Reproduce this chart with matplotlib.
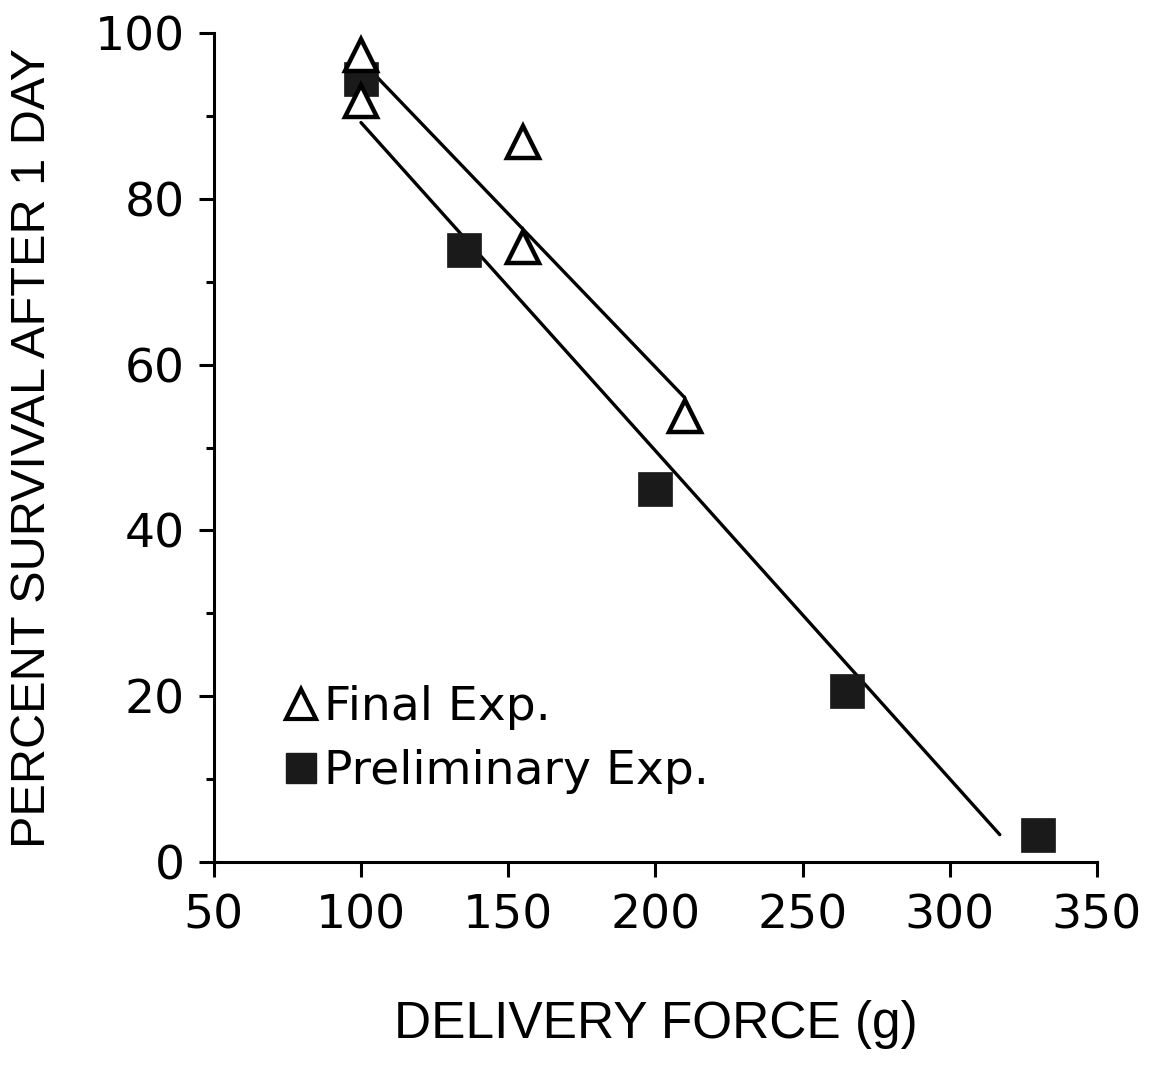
import matplotlib.pyplot as plt
from matplotlib.ticker import MultipleLocator
from matplotlib.lines import Line2D

# data
final_force = [100, 100, 155, 155, 210]
final_survival = [97.3, 91.8, 86.8, 74.2, 53.8]
prelim_force = [100, 135, 200, 265, 330]
prelim_survival = [94.5, 73.8, 45.0, 20.6, 3.2]

# fitted lines (end points as drawn)
final_fit_x = [100, 210]
final_fit_y = [96.7, 56.0]
prelim_fit_x = [100, 317]
prelim_fit_y = [89.2, 3.3]

xticks = [50, 100, 150, 200, 250, 300, 350]
yticks = [0, 20, 40, 60, 80, 100]


def main():
    plt.rcParams['font.family'] = ['DejaVu Sans']
    fig = plt.figure(figsize=(11.62, 10.65), dpi=100)
    ax = fig.add_axes([0.184, 0.1906, 0.76, 0.7784])

    ax.plot(final_fit_x, final_fit_y, color='black', lw=2.4, solid_capstyle='round')
    ax.plot(prelim_fit_x, prelim_fit_y, color='black', lw=2.4, solid_capstyle='round')

    ax.plot(prelim_force, prelim_survival, ls='none', marker='s', ms=24,
            mfc='#1a1a1a', mec='#1a1a1a', mew=0.5, zorder=3)
    ax.plot(final_force, final_survival, ls='none', marker='^', ms=23,
            mfc='white', mec='black', mew=3.2, zorder=4)

    ax.set_xlim(50, 350)
    ax.set_ylim(0, 100)
    ax.set_xticks(xticks)
    ax.set_yticks(yticks)
    ax.yaxis.set_minor_locator(MultipleLocator(10))
    for s in ['top', 'right']:
        ax.spines[s].set_visible(False)
    for s in ['left', 'bottom']:
        ax.spines[s].set_linewidth(2.2)
    ax.tick_params(which='major', length=11, width=2.2, labelsize=34, pad=10)
    ax.tick_params(axis='x', pad=12)
    ax.tick_params(which='minor', length=6, width=2.2)

    ax.set_xlabel('DELIVERY FORCE (g)', fontsize=37, family='Liberation Sans')
    ax.xaxis.set_label_coords(0.5, -0.167)
    ax.set_ylabel('PERCENT SURVIVAL AFTER 1 DAY', fontsize=35, family='Liberation Sans')
    ax.yaxis.set_label_coords(-0.18, 0.5)

    handles = [
        Line2D([], [], ls='none', marker='^', ms=21, mfc='white', mec='black', mew=3),
        Line2D([], [], ls='none', marker='s', ms=22, mfc='#1a1a1a', mec='#1a1a1a'),
    ]
    ax.legend(handles, ['Final Exp.', 'Preliminary Exp.'], loc='lower left',
              bbox_to_anchor=(0.061, 0.059), frameon=False, fontsize=34,
              handlelength=0.6, handletextpad=0.2, labelspacing=0.4,
              borderaxespad=0)

    fig.savefig('out.png', dpi=100, facecolor='white')


if __name__ == '__main__':
    main()
